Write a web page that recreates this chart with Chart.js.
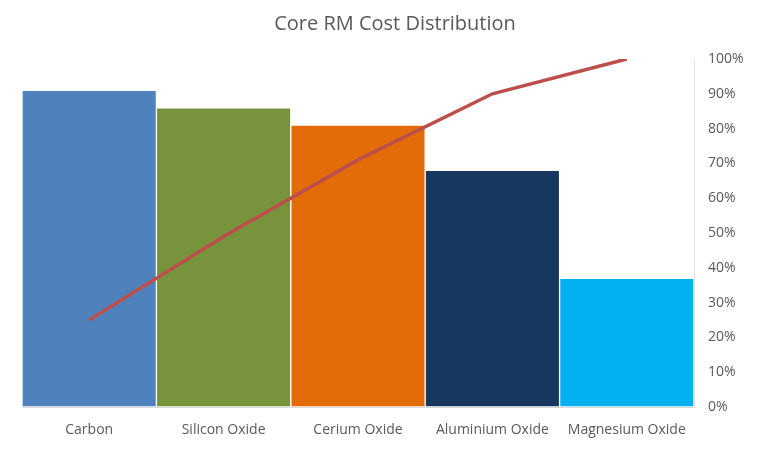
<!doctype html>
<html lang="en">
  <head>
    <meta charset="utf-8">
    <title>Core RM Cost Distribution</title>
    <style>
      html, body { margin: 0; padding: 0; background: #fff; }
      #wrap { width: 768px; height: 450px; }
    </style>
  </head>
  <body>
    <div id="wrap"><canvas id="myChart"></canvas></div>

    <script src="https://cdn.jsdelivr.net/npm/chart.js@4.4.1/dist/chart.umd.min.js"></script>
    <script>
        // values
        var materials = ['Carbon', 'Silicon Oxide', 'Cerium Oxide', 'Aluminium Oxide', 'Magnesium Oxide']
        var cost = [91, 86, 81, 68, 37]
        var cumulative = [25, 49, 71, 90, 100]
        var barColours = ['#4F81BD', '#77933C', '#E36C09', '#17375E', '#00B0F0']
        var pctTicks = [0, 10, 20, 30, 40, 50, 60, 70, 80, 90, 100]

        var textGrey = '#595959'
        var font = "'Open Sans', sans-serif"

        var ctx = document.getElementById('myChart').getContext('2d');
        var chart = new Chart(ctx, {
            type: 'bar',
            data: {
                labels: materials,
                datasets: [{
                    type: 'line',
                    label: 'Cumulative %',
                    data: cumulative,
                    yAxisID: 'y1',
                    borderColor: '#BC4F4B',
                    borderWidth: 3.5,
                    pointRadius: 0,
                    tension: 0,
                    order: 0
                },
                {
                    label: 'Cost',
                    data: cost,
                    yAxisID: 'y',
                    backgroundColor: barColours,
                    borderColor: 'rgba(255,255,255,0.85)',
                    borderWidth: 1,
                    borderSkipped: false,
                    barPercentage: 1,
                    categoryPercentage: 1,
                    order: 1
                }]
            },
            options: {
                responsive: true,
                maintainAspectRatio: false,
                animation: false,
                layout: { padding: { left: 22, right: 0, top: 0, bottom: 11 } },
                plugins: {
                    legend: { display: false },
                    tooltip: { enabled: false },
                    title: {
                        display: true,
                        text: 'Core RM Cost Distribution',
                        color: textGrey,
                        font: { family: font, size: 20, weight: 'normal' },
                        padding: { top: 12, bottom: 23 }
                    }
                },
                scales: {
                    x: {
                        afterFit: function(axis) { axis.height = 32 },
                        grid: { display: false, drawTicks: false },
                        border: { display: true, color: '#D9D9D9', width: 1 },
                        ticks: {
                            color: textGrey,
                            padding: 15,
                            maxRotation: 0,
                            font: { family: font, size: 14 }
                        }
                    },
                    y: {
                        display: false,
                        min: 0,
                        max: 100
                    },
                    y1: {
                        position: 'right',
                        min: 0,
                        max: 100,
                        afterBuildTicks: function(axis) {
                            axis.ticks = pctTicks.map(function(v) { return { value: v } })
                        },
                        afterFit: function(axis) { axis.width = 74 },
                        grid: { display: false, drawTicks: false },
                        border: { display: true, color: '#E3E3E3', width: 1 },
                        ticks: {
                            color: textGrey,
                            padding: 14,
                            font: { family: font, size: 14 },
                            callback: function(v) { return v + '%' }
                        }
                    }
                }
            }
        });
    </script>
  </body>
</html>
